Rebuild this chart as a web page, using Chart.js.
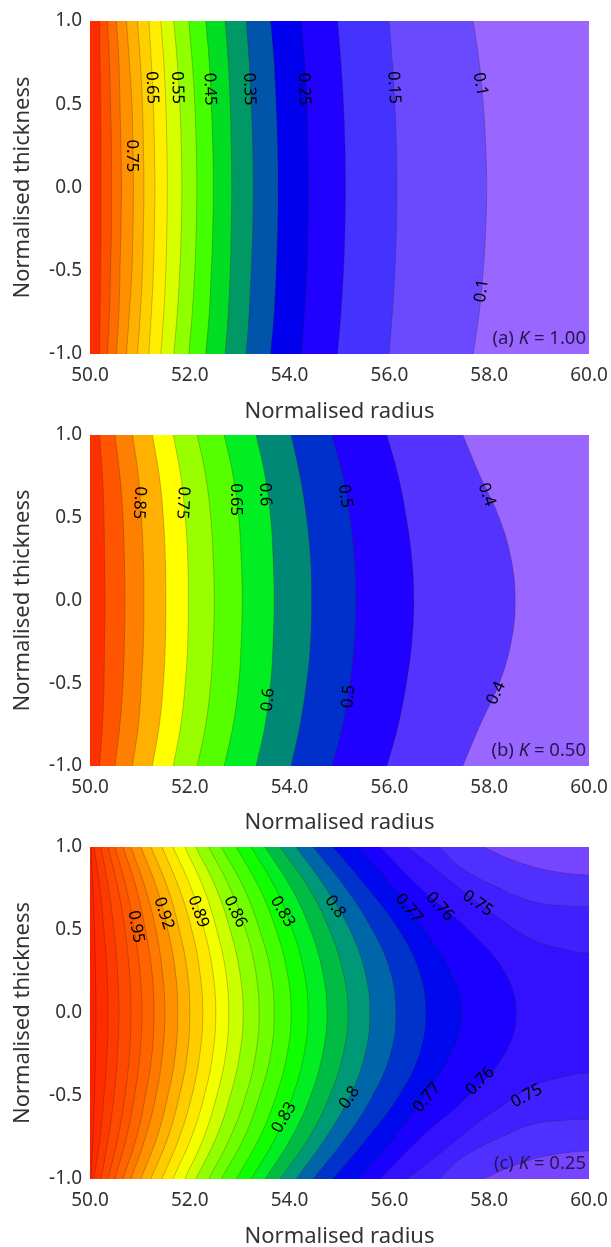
<!DOCTYPE html>
<html>
<head>
<meta charset="utf-8">
<title>Normalised contours</title>
<script src="https://cdn.jsdelivr.net/npm/chart.js@4"></script>
<style>
html, body { margin: 0; background: #fff; overflow: hidden; height: 1247px; }
canvas { position: absolute; left: 0; filter: blur(0.5px); }
</style>
</head>
<body>
<canvas id="chartA" width="611" height="425" style="top:0"></canvas>
<canvas id="chartB" width="611" height="416" style="top:420px"></canvas>
<canvas id="chartC" width="611" height="420" style="top:830px"></canvas>
<script>
var radiusTicks = [50, 52, 54, 56, 58, 60];
var thicknessTicks = [-1, -0.5, 0, 0.5, 1];
var thicknessGrid = [-1, -0.75, -0.5, -0.25, 0, 0.25, 0.5, 0.75, 1];

// panel (a) K = 1.00
var levelsA = [0.9, 0.85, 0.8, 0.75, 0.7, 0.65, 0.6, 0.55, 0.5, 0.45, 0.4, 0.35, 0.3, 0.25, 0.2, 0.15, 0.1];
var radiusA = [
	[50.19, 50.20, 50.21, 50.22, 50.22, 50.22, 50.21, 50.20, 50.19],
	[50.35, 50.39, 50.41, 50.43, 50.43, 50.43, 50.41, 50.39, 50.35],
	[50.53, 50.58, 50.60, 50.62, 50.63, 50.62, 50.60, 50.58, 50.53],
	[50.73, 50.79, 50.84, 50.86, 50.87, 50.86, 50.84, 50.79, 50.73],
	[50.95, 51.01, 51.05, 51.07, 51.08, 51.07, 51.05, 51.01, 50.95],
	[51.18, 51.23, 51.27, 51.29, 51.30, 51.29, 51.27, 51.23, 51.18],
	[51.42, 51.48, 51.52, 51.54, 51.55, 51.54, 51.52, 51.48, 51.42],
	[51.68, 51.75, 51.80, 51.83, 51.84, 51.83, 51.80, 51.75, 51.68],
	[51.98, 52.05, 52.10, 52.13, 52.14, 52.13, 52.10, 52.05, 51.98],
	[52.32, 52.39, 52.43, 52.46, 52.47, 52.46, 52.43, 52.39, 52.32],
	[52.71, 52.77, 52.81, 52.83, 52.84, 52.83, 52.81, 52.77, 52.71],
	[53.13, 53.19, 53.23, 53.26, 53.27, 53.26, 53.23, 53.19, 53.13],
	[53.62, 53.69, 53.73, 53.76, 53.77, 53.76, 53.73, 53.69, 53.62],
	[54.24, 54.30, 54.35, 54.37, 54.38, 54.37, 54.35, 54.30, 54.24],
	[54.96, 55.03, 55.08, 55.11, 55.12, 55.11, 55.08, 55.03, 54.96],
	[55.99, 56.06, 56.11, 56.14, 56.15, 56.14, 56.11, 56.06, 55.99],
	[57.68, 57.80, 57.88, 57.93, 57.95, 57.93, 57.88, 57.80, 57.68]
];
var colorsA = ['#ff2c00', '#ff5000', '#ff6c00', '#ff9000', '#ffb000', '#ffd000', '#ffee00', '#d8ff00', '#90ff00',
	'#44ff00', '#00dd22', '#009966', '#0055aa', '#0000ee', '#2000ff', '#4433ff', '#6a4aff', '#9966ff'];
var labelsA = [
	['0.75', 50.84, 0.19, 90], ['0.65', 51.24, 0.60, 88], ['0.55', 51.75, 0.60, 88], ['0.45', 52.40, 0.59, 88],
	['0.35', 53.19, 0.59, 88], ['0.25', 54.29, 0.59, 88], ['0.15', 56.09, 0.60, 87], ['0.1', 57.82, 0.62, 80],
	['0.1', 57.85, -0.62, -82]
];

// panel (b) K = 0.50
var levelsB = [0.95, 0.9, 0.85, 0.8, 0.75, 0.7, 0.65, 0.6, 0.55, 0.5, 0.45, 0.4];
var radiusB = [
	[50.19, 50.25, 50.28, 50.29, 50.30, 50.29, 50.28, 50.25, 50.19],
	[50.50, 50.60, 50.66, 50.69, 50.70, 50.69, 50.66, 50.60, 50.50],
	[50.85, 50.97, 51.03, 51.07, 51.08, 51.07, 51.03, 50.97, 50.85],
	[51.25, 51.39, 51.47, 51.51, 51.52, 51.51, 51.47, 51.39, 51.25],
	[51.67, 51.82, 51.91, 51.96, 51.97, 51.96, 51.91, 51.82, 51.67],
	[52.15, 52.32, 52.42, 52.47, 52.49, 52.47, 52.42, 52.32, 52.15],
	[52.69, 52.87, 52.98, 53.03, 53.05, 53.03, 52.98, 52.87, 52.69],
	[53.33, 53.51, 53.62, 53.67, 53.69, 53.67, 53.62, 53.51, 53.33],
	[54.03, 54.21, 54.34, 54.42, 54.44, 54.42, 54.34, 54.21, 54.03],
	[54.85, 55.07, 55.21, 55.30, 55.33, 55.30, 55.21, 55.07, 54.85],
	[55.95, 56.18, 56.34, 56.45, 56.49, 56.45, 56.34, 56.18, 55.95],
	[57.47, 57.82, 58.20, 58.44, 58.52, 58.44, 58.20, 57.82, 57.47]
];
var colorsB = ['#ff3000', '#ff5500', '#ff8000', '#ffb000', '#ffff00', '#99ff00', '#55ff00', '#00ee22', '#008877',
	'#0030cc', '#2000ff', '#5533ff', '#9966ff'];
var labelsB = [
	['0.85', 50.99, 0.59, 93], ['0.75', 51.86, 0.59, 93], ['0.65', 52.92, 0.61, 90], ['0.6', 53.51, 0.64, 88],
	['0.5', 55.11, 0.63, 82], ['0.4', 57.95, 0.64, 70], ['0.6', 53.57, -0.60, -85], ['0.5', 55.18, -0.58, -85],
	['0.4', 58.14, -0.56, -65]
];

// panel (c) K = 0.25
var levelsC = [0.99, 0.98, 0.97, 0.96, 0.95, 0.94, 0.93, 0.92, 0.91, 0.9, 0.89, 0.88, 0.87, 0.86, 0.85, 0.84, 0.83,
	0.82, 0.81, 0.8, 0.79, 0.78, 0.77, 0.76];
var radiusC = [
	[50.02, 50.06, 50.09, 50.11, 50.12, 50.11, 50.09, 50.06, 50.02],
	[50.08, 50.20, 50.28, 50.34, 50.36, 50.34, 50.28, 50.20, 50.08],
	[50.22, 50.37, 50.48, 50.55, 50.58, 50.55, 50.48, 50.37, 50.22],
	[50.36, 50.56, 50.70, 50.79, 50.82, 50.79, 50.70, 50.56, 50.36],
	[50.50, 50.73, 50.89, 51.00, 51.04, 51.00, 50.89, 50.73, 50.50],
	[50.66, 50.93, 51.11, 51.24, 51.28, 51.24, 51.11, 50.93, 50.66],
	[50.82, 51.11, 51.32, 51.45, 51.50, 51.45, 51.32, 51.11, 50.82],
	[51.02, 51.34, 51.56, 51.71, 51.76, 51.71, 51.56, 51.34, 51.02],
	[51.22, 51.56, 51.79, 51.95, 52.00, 51.95, 51.79, 51.56, 51.22],
	[51.44, 51.79, 52.04, 52.20, 52.26, 52.20, 52.04, 51.79, 51.44],
	[51.66, 52.03, 52.29, 52.46, 52.52, 52.46, 52.29, 52.03, 51.66],
	[51.90, 52.28, 52.54, 52.72, 52.78, 52.72, 52.54, 52.28, 51.90],
	[52.12, 52.53, 52.81, 53.00, 53.07, 53.00, 52.81, 52.53, 52.12],
	[52.38, 52.81, 53.12, 53.32, 53.39, 53.32, 53.12, 52.81, 52.38],
	[52.63, 53.09, 53.40, 53.62, 53.69, 53.62, 53.40, 53.09, 52.63],
	[52.93, 53.40, 53.73, 53.95, 54.03, 53.95, 53.73, 53.40, 52.93],
	[53.23, 53.72, 54.06, 54.29, 54.37, 54.29, 54.06, 53.72, 53.23],
	[53.51, 54.04, 54.42, 54.66, 54.75, 54.66, 54.42, 54.04, 53.51],
	[53.81, 54.39, 54.80, 55.07, 55.17, 55.07, 54.80, 54.39, 53.81],
	[54.13, 54.73, 55.21, 55.51, 55.61, 55.51, 55.21, 54.73, 54.13],
	[54.47, 55.13, 55.66, 56.02, 56.13, 56.02, 55.66, 55.13, 54.47],
	[54.87, 55.57, 56.19, 56.60, 56.73, 56.60, 56.19, 55.57, 54.87],
	[55.37, 56.10, 56.70, 57.22, 57.45, 57.22, 56.70, 56.10, 55.37],
	[55.81, 56.63, 57.58, 58.30, 58.54, 58.30, 57.58, 56.63, 55.81]
];
// the three outer contours of (c) run out through the right edge
var radius075 = [56.35, 57.00, 57.78, 58.16, 58.88, 59.56, 60, 61, 61, 60, 59.56, 58.88, 58.16, 57.78, 57.00, 56.35];
var thick075 = [-1, -0.85, -0.66, -0.58, -0.44, -0.38, -0.36, -0.35, 0.35, 0.36, 0.38, 0.44, 0.58, 0.66, 0.85, 1];
var radius074 = [57.01, 57.41, 58.22, 58.88, 59.56, 60, 61, 61, 60, 59.56, 58.88, 58.22, 57.41, 57.01];
var thick074 = [-1, -0.88, -0.75, -0.67, -0.645, -0.64, -0.63, 0.63, 0.64, 0.645, 0.67, 0.75, 0.88, 1];
var radius073 = [57.88, 58.48, 59.16, 60, 61, 61, 60, 59.16, 58.48, 57.88];
var thick073 = [-1, -0.92, -0.86, -0.83, -0.82, 0.82, 0.83, 0.86, 0.92, 1];
var colorsC = ['#ff2000', '#ff2c00', '#ff3a00', '#ff4800', '#ff5400', '#ff6400', '#ff7800', '#ff9000', '#ffb000',
	'#ffcc00', '#ffe800', '#f4ff00', '#ccff00', '#90ff00', '#70ff00', '#44ff00', '#10ff00', '#00ee22', '#00bb44',
	'#009977', '#0066aa', '#0033cc', '#0008ee', '#1a00ff', '#3311ff', '#4020ff', '#5030ff', '#7744ff'];
var labelsC = [
	['0.95', 50.92, 0.52, 80], ['0.92', 51.48, 0.60, 72], ['0.89', 52.17, 0.61, 70], ['0.86', 52.91, 0.61, 65],
	['0.83', 53.86, 0.61, 60], ['0.8', 54.91, 0.64, 55], ['0.77', 56.39, 0.63, 50], ['0.76', 57.01, 0.64, 48],
	['0.75', 57.77, 0.66, 35], ['0.83', 53.89, -0.63, -60], ['0.8', 55.20, -0.51, -55], ['0.77', 56.75, -0.51, -50],
	['0.76', 57.82, -0.41, -45], ['0.75', 58.75, -0.50, -28]
];

var fontName = '"Noto Sans", sans-serif';

// closed region left of one contour; the contour carries on straight past y = +-1 so the
// spline keeps its slope at the plot edge, and the far corners stay outside the plot
function regionOf(xs, ys) {
	var n = xs.length;
	var lowSlope = (xs[1] - xs[0]) / (ys[1] - ys[0]);
	var highSlope = (xs[n - 1] - xs[n - 2]) / (ys[n - 1] - ys[n - 2]);
	var pts = [
		{ x: 45, y: -1.5 },
		{ x: xs[0] - lowSlope * 0.5, y: -1.5 },
		{ x: xs[0] - lowSlope * 0.25, y: -1.25 }
	];
	for (var i = 0; i < n; i++) {
		pts.push({ x: xs[i], y: ys[i] });
	}
	pts.push(
		{ x: xs[n - 1] + highSlope * 0.25, y: 1.25 },
		{ x: xs[n - 1] + highSlope * 0.5, y: 1.5 },
		{ x: 45, y: 1.5 }
	);
	return pts;
}

function contourDataset(xs, ys, color) {
	return {
		data: regionOf(xs, ys),
		showLine: true,
		fill: 'shape',
		backgroundColor: color,
		borderColor: 'rgba(40,30,0,0.25)',
		borderWidth: 1,
		tension: 0.4,
		capBezierPoints: false,
		pointRadius: 0
	};
}

function drawPanel(id, levels, rows, extra, colors, labels, tag, kText, top, axisHeight) {
	var datasets = [];
	for (var i = 0; i < levels.length; i++) {
		datasets.push(contourDataset(rows[i], thicknessGrid, colors[i]));
	}
	for (var j = 0; j < extra.length; j++) {
		datasets.push(contourDataset(extra[j][0], extra[j][1], colors[levels.length + j]));
	}
	new Chart(document.getElementById(id), {
		type: 'scatter',
		data: { datasets: datasets },
		plugins: [{
			id: 'panelPaint',
			beforeDatasetsDraw: function(chart) {
				var a = chart.chartArea;
				chart.ctx.fillStyle = colors[colors.length - 1];
				chart.ctx.fillRect(a.left, a.top, a.right - a.left, a.bottom - a.top);
			},
			afterDatasetsDraw: function(chart) {
				var ctx = chart.ctx;
				var a = chart.chartArea;
				ctx.save();
				ctx.fillStyle = '#000';
				ctx.font = '16.5px ' + fontName;
				ctx.textAlign = 'center';
				ctx.textBaseline = 'middle';
				for (let l of labels) {
					ctx.save();
					ctx.translate(chart.scales.x.getPixelForValue(l[1]), chart.scales.y.getPixelForValue(l[2]));
					ctx.rotate(l[3] * Math.PI / 180);
					ctx.fillText(l[0], 0, 0);
					ctx.restore();
				}
				// "(a) K = 1.00" in the lower right corner
				ctx.fillStyle = '#24174d';
				ctx.textAlign = 'left';
				var plain = '18.5px ' + fontName;
				var slant = 'italic 18.5px ' + fontName;
				var parts = [[tag + ' ', plain], ['K', slant], [' = ' + kText, plain]];
				var w = 0;
				for (let p of parts) {
					ctx.font = p[1];
					w += ctx.measureText(p[0]).width;
				}
				var x = a.right - 3 - w;
				for (let p of parts) {
					ctx.font = p[1];
					ctx.fillText(p[0], x, a.bottom - 15);
					x += ctx.measureText(p[0]).width;
				}
				ctx.restore();
			}
		}],
		options: {
			responsive: false,
			animation: false,
			layout: { padding: { top: top, right: 22 } },
			plugins: { legend: { display: false }, tooltip: { enabled: false } },
			scales: {
				x: {
					type: 'linear',
					min: 50,
					max: 60,
					grid: { display: false, drawTicks: false },
					border: { display: false },
					afterBuildTicks: function(axis) {
						axis.ticks = radiusTicks.map(function(v) { return { value: v }; });
					},
					afterFit: function(axis) {
						axis.height = axisHeight;
						axis.paddingLeft = 0;
						axis.paddingRight = 0;
					},
					ticks: {
						color: '#333',
						font: { family: fontName, size: 19 },
						padding: 10,
						maxRotation: 0,
						autoSkip: false,
						callback: function(v) { return v.toFixed(1); }
					},
					title: {
						display: true,
						text: 'Normalised radius',
						color: '#333',
						font: { family: fontName, size: 22 },
						padding: 0
					}
				},
				y: {
					type: 'linear',
					min: -1,
					max: 1,
					grid: { display: false, drawTicks: false },
					border: { display: false },
					afterBuildTicks: function(axis) {
						axis.ticks = thicknessTicks.map(function(v) { return { value: v }; });
					},
					afterFit: function(axis) {
						axis.width = 90;
						axis.paddingTop = 0;
						axis.paddingBottom = 0;
					},
					ticks: {
						color: '#333',
						font: { family: fontName, size: 19 },
						padding: 8,
						autoSkip: false,
						callback: function(v) { return v.toFixed(1); }
					},
					title: {
						display: true,
						text: 'Normalised thickness',
						color: '#333',
						font: { family: fontName, size: 22 },
						padding: { top: 10, bottom: 0 }
					}
				}
			}
		}
	});
}

drawPanel('chartA', levelsA, radiusA, [], colorsA, labelsA, '(a)', '1.00', 21, 71);
drawPanel('chartB', levelsB, radiusB, [], colorsB, labelsB, '(b)', '0.50', 15, 70);
drawPanel('chartC', levelsC, radiusC, [[radius075, thick075], [radius074, thick074], [radius073, thick073]],
	colorsC, labelsC, '(c)', '0.25', 17, 71);
</script>
</body>
</html>
